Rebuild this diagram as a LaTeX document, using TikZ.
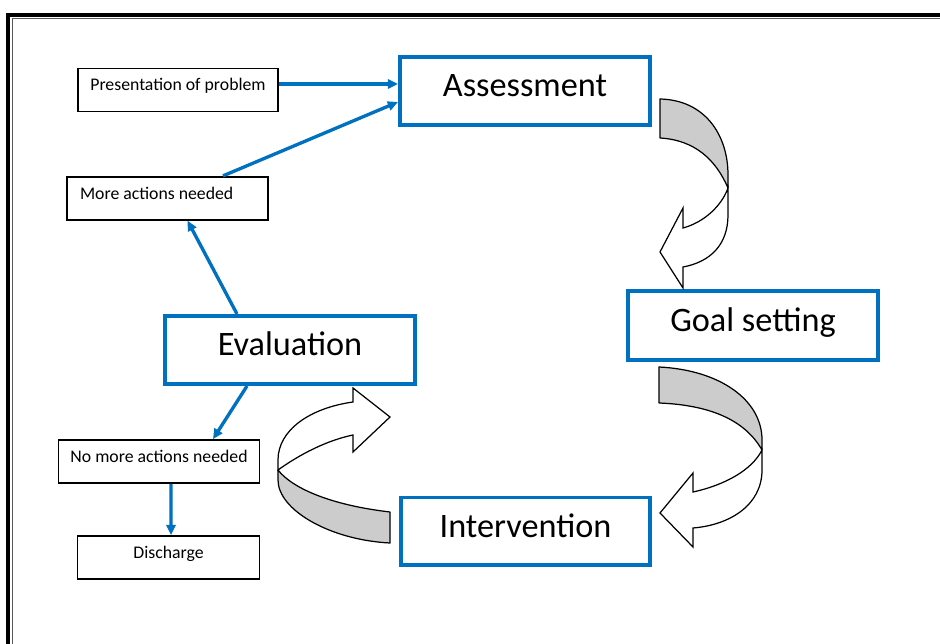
\documentclass[tikz,border=0pt]{standalone}
\usepackage{fontspec}
\setmainfont{Carlito}
\usetikzlibrary{arrows.meta,calc}
\definecolor{officeblue}{RGB}{0,112,192}
\definecolor{bandgray}{RGB}{204,204,204}
\begin{document}
\begin{tikzpicture}[x=0.02cm,y=-0.02cm,
  bigbox/.style={draw=officeblue, line width=2.27pt, minimum width=5cm, minimum height=1.36cm, inner sep=0pt, font=\fontsize{19.5}{23}\selectfont, text height=6.8pt, text depth=0pt},
  smallbox/.style={draw=black, line width=1pt, minimum height=0.86cm, inner sep=0pt, font=\fontsize{10.1}{12}\selectfont, text height=1.1pt, text depth=0pt},
  conn/.style={draw=officeblue, line width=1.9pt, -{Triangle[length=5.8pt,width=5.2pt]}},
  band/.style={draw=black, line width=0.7pt, fill=bandgray, line join=round},
  arrowbody/.style={draw=black, line width=0.7pt, fill=white, line join=miter},
]
\useasboundingbox (0,0) rectangle (940,644);
\begin{scope}
\clip (0,0) rectangle (940,644);
\draw[line width=1.8pt] (8,15) rectangle (990,700);
\draw[line width=0.8pt, black!65] (12.5,18.5) rectangle (985,695);
\end{scope}

% main boxes
\node[bigbox] (assess) at (525,91) {Assessment};
\node[bigbox, minimum height=1.38cm] (goal) at (753,325.5) {Goal setting};
\node[bigbox] (interv) at (525.5,531.5) {Intervention};
\node[bigbox] (eval) at (290,350) {Evaluation};

% small boxes
\node[smallbox, minimum width=4cm] (pres) at (178,90) {Presentation of problem};
\node[smallbox, minimum width=4.02cm] (more) at (167.5,198.25) {\makebox[3.5cm][l]{More actions needed}};
\node[smallbox, minimum width=4.02cm] (nomore) at (159,461.5) {No more actions needed};
\node[smallbox, minimum width=3.64cm] (disch) at (168.5,557.5) {Discharge};

% connectors
\draw[conn] ($(pres.east)+(0,-6)$) -- ($(assess.west)+(0,-7)$);
\draw[conn] ($(more.north)+(55.5,0)$) -- ($(assess.west)+(0,11)$);
\draw[conn] ($(eval.north)+(-53,0)$) -- ($(more.south)+(20,0)$);
\draw[conn] ($(eval.south)+(-43,0)$) -- ($(nomore.north)+(54,0)$);
\draw[conn] ($(nomore.south)+(12,0)$) -- ($(disch.north)+(2.5,0)$);

% curved arrow 1: Assessment -> Goal setting
\draw[arrowbody] (728,188) -- (728,215) .. controls (728,245) and (710,262) .. (683,267) -- (683,288) -- (660,252) -- (683,208) -- (683,228) .. controls (705,222) and (722,205) .. (728,188) -- cycle;
\draw[band] (660,99) .. controls (705,100) and (728,135) .. (728,175) -- (728,188) .. controls (716,160) and (695,140) .. (660,138) -- cycle;

% curved arrow 2: Goal setting -> Intervention
\draw[arrowbody] (762,450) -- (762,470) .. controls (762,505) and (730,525) .. (693,528) -- (693,547) -- (660,513) -- (693,473) -- (693,492) .. controls (725,485) and (752,470) .. (762,450) -- cycle;
\draw[band] (659,367) .. controls (720,370) and (762,400) .. (762,440) -- (762,450) .. controls (745,420) and (710,405) .. (659,403) -- cycle;

% curved arrow 3: Intervention -> Evaluation
\draw[arrowbody] (278,470) -- (278,460) .. controls (278,430) and (310,408) .. (353,402) -- (353,388) -- (390,417) -- (353,452) -- (353,435) .. controls (320,442) and (292,460) .. (278,470) -- cycle;
\draw[band] (390,512) .. controls (330,505) and (292,488) .. (278,470) -- (278,480) .. controls (278,510) and (330,540) .. (390,543) -- cycle;
\end{tikzpicture}
\end{document}
